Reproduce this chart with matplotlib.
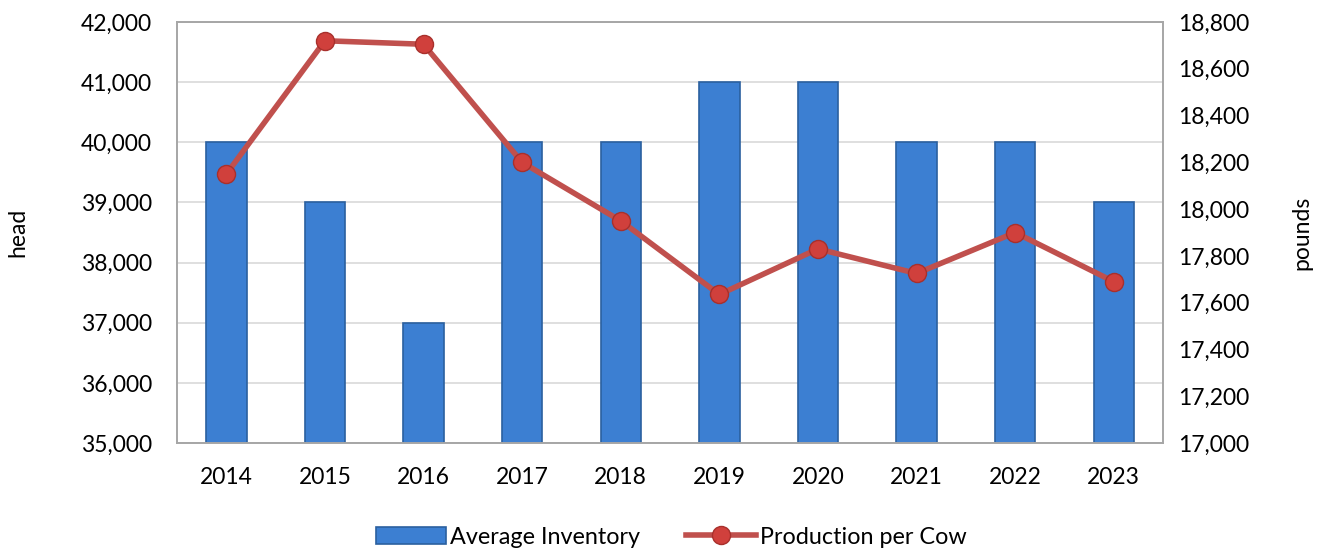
import matplotlib.pyplot as plt
from matplotlib.ticker import FuncFormatter

plt.rcParams['font.family'] = ['Lato', 'DejaVu Sans']

# data
years = ['2014', '2015', '2016', '2017', '2018', '2019', '2020', '2021', '2022', '2023']
inventory = [40000, 39000, 37000, 40000, 40000, 41000, 41000, 40000, 40000, 39000]
production = [18150, 18720, 18705, 18200, 17950, 17635, 17830, 17725, 17900, 17690]

fig = plt.figure(figsize=(13.43, 5.51), dpi=100)
ax = fig.add_axes([0.1318, 0.196, 0.7342, 0.764])
ax2 = ax.twinx()

fs = 16.5
x = list(range(len(years)))
ax.bar(x, inventory, width=0.41, color='#3C7FD2', edgecolor='#2B609F', linewidth=1.2,
       label='Average Inventory', zorder=2)
ax.set_ylim(35000, 42000)
ax.set_xlim(-0.5, len(years) - 0.5)
ax.set_yticks(range(35000, 42001, 1000))
ax.yaxis.set_major_formatter(FuncFormatter(lambda v, p: f'{int(v):,}'))
ax.set_xticks(x)
ax.set_xticklabels(years)
ax.grid(axis='y', color='#D9D9D9', linewidth=1.2, zorder=0)
ax.set_axisbelow(True)
ax.tick_params(axis='both', length=0, labelsize=fs)
ax.tick_params(axis='y', pad=18)
ax.tick_params(axis='x', pad=17)
ax.set_ylabel('head', fontsize=fs, labelpad=38)

ax2.plot(x, production, color='#C0504D', linewidth=4, marker='o', markersize=13,
         markerfacecolor='#D0403C', markeredgecolor='#A8302C', markeredgewidth=1,
         label='Production per Cow', zorder=3)
ax2.set_ylim(17000, 18800)
ax2.set_yticks(range(17000, 18801, 200))
ax2.yaxis.set_major_formatter(FuncFormatter(lambda v, p: f'{int(v):,}'))
ax2.tick_params(axis='y', length=0, labelsize=fs, pad=11)
ax2.set_ylabel('pounds', fontsize=fs, labelpad=30)

for a in (ax, ax2):
    for s in a.spines.values():
        s.set_color('#A6A6A6')
        s.set_linewidth(1.2)

h1, l1 = ax.get_legend_handles_labels()
h2, l2 = ax2.get_legend_handles_labels()
fig.legend(h1 + h2, l1 + l2, loc='lower center', ncol=2, frameon=False, fontsize=16.8,
           bbox_to_anchor=(0.5, -0.032), handlelength=3.0, handletextpad=0.15, columnspacing=2.0)

fig.savefig('out.png', dpi=100)
